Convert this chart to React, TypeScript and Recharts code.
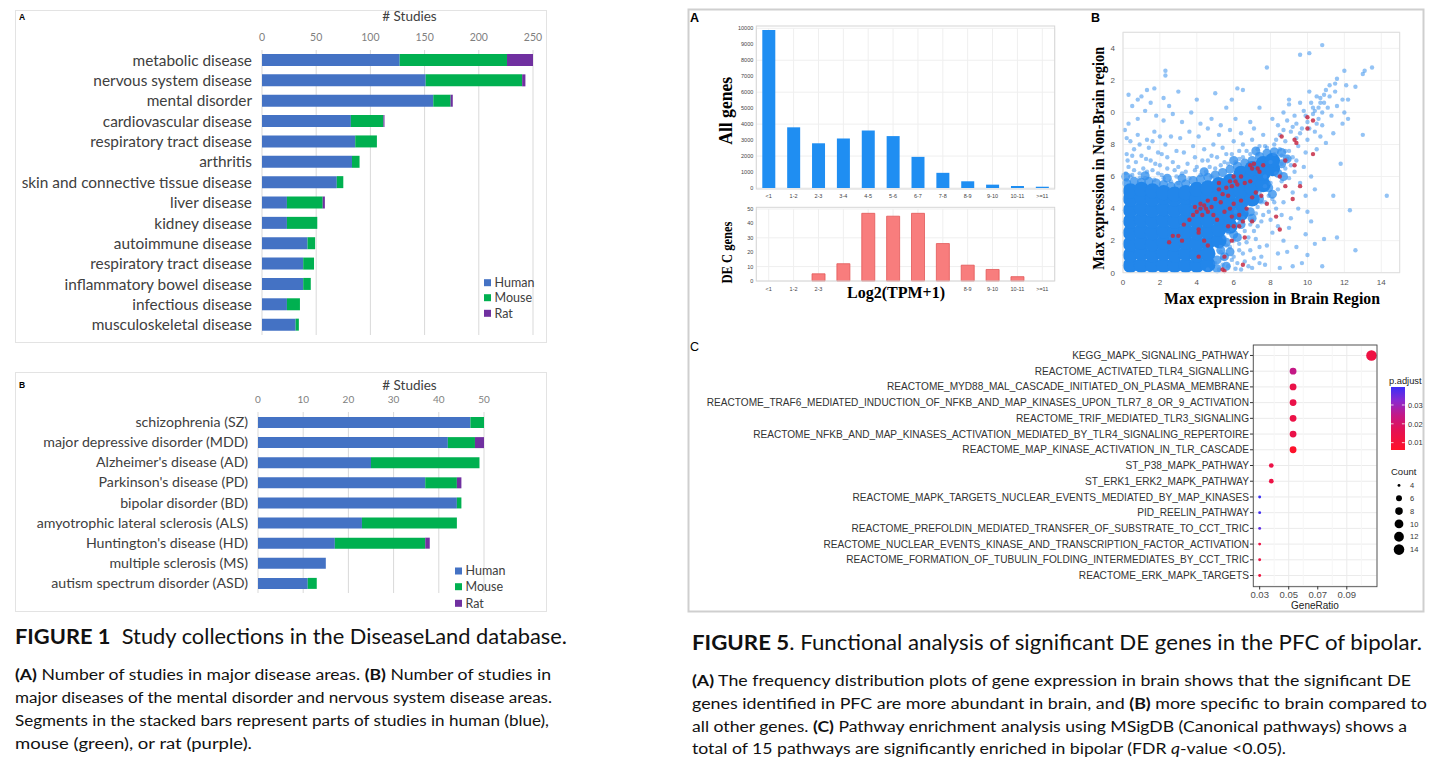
import React from "react";
import {
  BarChart,
  Bar,
  XAxis,
  YAxis,
  CartesianGrid,
  ScatterChart,
  Scatter,
  ZAxis,
  Cell,
  ReferenceLine,
} from "recharts";

// ---------- FIGURE 1A: major disease areas ----------
const areaNames = [
  "metabolic disease",
  "nervous system disease",
  "mental disorder",
  "cardiovascular disease",
  "respiratory tract disease",
  "arthritis",
  "skin and connective tissue disease",
  "liver disease",
  "kidney disease",
  "autoimmune disease",
  "respiratory tract disease",
  "inflammatory bowel disease",
  "infectious disease",
  "musculoskeletal disease",
];
const areaHuman = [127, 151, 158, 82, 86, 83, 69, 23, 23, 42, 38, 38, 23, 31];
const areaMouse = [99, 89, 16, 30, 20, 7, 6, 33, 28, 7, 10, 7, 12, 3];
const areaRat = [24, 3, 2, 1, 0, 0, 0, 2, 0, 0, 0, 0, 0, 0];
const areaTicks = [0, 50, 100, 150, 200, 250];

// ---------- FIGURE 1B: mental / nervous system diseases ----------
const mentalNames = [
  "schizophrenia (SZ)",
  "major depressive disorder (MDD)",
  "Alzheimer's disease (AD)",
  "Parkinson's disease (PD)",
  "bipolar disorder (BD)",
  "amyotrophic lateral sclerosis (ALS)",
  "Huntington's disease (HD)",
  "multiple sclerosis (MS)",
  "autism spectrum disorder (ASD)",
];
const mentalHuman = [47, 42, 25, 37, 44, 23, 17, 15, 11];
const mentalMouse = [3, 6, 24, 7, 1, 21, 20, 0, 2];
const mentalRat = [0, 2, 0, 1, 0, 0, 1, 0, 0];
const mentalTicks = [0, 10, 20, 30, 40, 50];

// ---------- FIGURE 5A: expression histograms ----------
const tpmBins = ["<1", "1-2", "2-3", "3-4", "4-5", "5-6", "6-7", "7-8", "8-9", "9-10", "10-11", ">=11"];
const allGenes = [9900, 3800, 2800, 3100, 3600, 3250, 1950, 950, 420, 210, 125, 80];
const decGenes = [0, 0, 5, 12, 47, 45, 47, 26, 11, 8, 3, 0];
const decLabelShown = [true, true, true, false, false, false, false, false, true, true, true, true];
const allTicks = [0, 1000, 2000, 3000, 4000, 5000, 6000, 7000, 8000, 9000, 10000];
const decTicks = [0, 10, 20, 30, 40, 50];

// ---------- FIGURE 5B: brain vs non-brain max expression ----------
// the solid blue mass
const denseCore: [number, number][] = [
  [0.4, 0.45], [0.4, 1.1], [0.4, 1.8], [0.4, 2.5], [0.4, 3.2], [0.4, 3.9], [0.4, 4.6], [0.4, 5.1],
  [1.0, 0.45], [1.0, 1.2], [1.0, 1.9], [1.0, 2.6], [1.0, 3.3], [1.0, 4.0], [1.0, 4.7], [1.0, 5.2],
  [1.6, 0.45], [1.6, 1.1], [1.6, 1.8], [1.6, 2.5], [1.6, 3.2], [1.6, 3.9], [1.6, 4.6], [1.6, 5.1],
  [2.2, 0.45], [2.2, 1.2], [2.2, 1.9], [2.2, 2.6], [2.2, 3.3], [2.2, 4.0], [2.2, 4.7], [2.2, 5.0],
  [2.8, 0.45], [2.8, 1.1], [2.8, 1.8], [2.8, 2.5], [2.8, 3.2], [2.8, 3.9], [2.8, 4.6], [2.8, 4.9],
  [3.4, 0.45], [3.4, 1.2], [3.4, 1.9], [3.4, 2.6], [3.4, 3.3], [3.4, 4.0], [3.4, 4.7], [3.4, 5.0],
  [4.0, 0.45], [4.0, 1.1], [4.0, 1.8], [4.0, 2.5], [4.0, 3.2], [4.0, 3.9], [4.0, 4.6], [4.0, 5.2],
  [4.6, 0.5], [4.6, 1.2], [4.6, 1.9], [4.6, 2.6], [4.6, 3.3], [4.6, 4.0], [4.6, 4.7], [4.6, 5.3],
  [5.2, 2.0], [5.2, 2.7], [5.2, 3.4], [5.2, 4.1], [5.2, 4.8], [5.2, 5.5],
  [5.8, 2.9], [5.8, 3.6], [5.8, 4.3], [5.8, 5.0], [5.8, 5.7],
  [6.4, 3.7], [6.4, 4.4], [6.4, 5.1], [6.4, 5.8], [6.4, 6.2],
  [7.0, 4.6], [7.0, 5.3], [7.0, 6.0], [7.0, 6.5],
  [7.6, 5.5], [7.6, 6.2], [7.6, 6.8],
  [8.1, 6.5], [8.1, 7.0],
];
// soft rim around the mass
const rimBlue: [number, number][] = [
  [0.2, 5.6], [0.6, 5.7], [1.0, 5.65], [1.4, 5.7], [1.8, 5.6], [2.2, 5.5], [2.6, 5.4], [3.0, 5.45],
  [3.4, 5.55], [3.8, 5.75], [4.2, 5.85], [4.6, 5.95], [5.0, 6.1], [5.4, 6.25], [5.8, 6.45], [6.2, 6.65],
  [6.6, 6.85], [7.0, 7.0], [7.4, 7.25], [7.8, 7.45], [8.2, 7.55], [8.6, 7.5], [8.6, 6.8], [8.4, 6.2],
  [7.9, 5.3], [7.4, 4.6], [6.9, 3.8], [6.4, 3.0], [6.0, 2.4], [5.6, 1.9], [5.3, 1.4], [5.1, 0.8],
  [5.1, 0.25], [5.5, 1.0], [0.15, 6.0], [1.2, 6.05], [2.4, 5.9], [3.2, 5.9], [4.4, 6.3], [6.0, 7.0],
  [7.2, 7.6], [8.9, 7.1], [8.7, 6.0], [8.1, 4.9], [7.0, 3.4], [6.2, 2.2], [5.8, 1.3], [5.6, 0.4],
];
const sparseBlue: [number, number][] = [
  // upper-left fringe
  [0.2, 5.8], [0.5, 6.1], [0.9, 5.9], [1.3, 6.3], [1.7, 5.8], [2.1, 6.1], [2.6, 5.7], [0.3, 6.6],
  [0.7, 6.9], [1.1, 6.5], [1.5, 7.0], [2.0, 6.7], [2.4, 7.2], [2.8, 6.4], [0.2, 7.4], [0.6, 7.7],
  [1.0, 7.3], [1.4, 7.8], [1.9, 7.5], [2.3, 8.0], [2.9, 7.6], [0.4, 8.2], [0.8, 8.6], [1.3, 8.3],
  [1.7, 8.8], [0.1, 8.9], [2.6, 8.5], [0.15, 6.2], [0.6, 6.4], [1.2, 5.9], [1.9, 6.2], [2.4, 6.5],
  [0.4, 6.0], [0.9, 6.2], [1.6, 6.4], [2.2, 5.9], [2.9, 6.0], [0.25, 7.0], [1.25, 7.1], [1.75, 6.8],
  [2.7, 6.9], [0.5, 7.3], [2.1, 7.4], [0.9, 8.0], [1.6, 8.2], [0.2, 8.4], [2.0, 8.5], [3.0, 6.6],
  // middle upper
  [3.2, 6.2], [3.5, 6.8], [3.9, 6.4], [4.3, 7.0], [4.7, 6.6], [5.1, 7.2], [5.5, 6.9], [5.9, 7.4],
  [6.3, 7.1], [6.7, 7.6], [3.3, 7.5], [3.8, 7.9], [4.4, 7.7], [4.9, 8.0], [5.4, 7.8], [6.0, 8.2],
  [6.5, 8.0], [7.0, 8.3], [7.4, 7.9], [3.1, 8.4], [3.6, 8.8], [4.1, 8.5], [4.6, 9.0], [5.2, 8.6],
  [5.8, 8.9], [6.4, 8.7], [7.1, 9.0], [7.6, 8.6], [3.0, 5.6], [3.6, 5.9], [4.2, 6.1], [4.8, 6.0],
  [3.4, 6.3], [4.0, 6.6], [4.5, 6.3], [5.0, 6.5], [5.3, 6.7], [5.7, 6.8], [6.1, 6.9], [6.5, 7.2],
  [6.9, 7.4], [7.3, 7.7], [7.7, 7.9], [4.8, 7.3], [5.6, 7.4], [6.3, 7.6], [3.9, 7.2], [4.6, 7.0],
  // sparse top
  [0.3, 9.3], [0.8, 9.6], [1.2, 10.1], [1.8, 9.8], [2.2, 9.5], [2.7, 9.9], [3.2, 9.4], [3.7, 10.0],
  [4.2, 9.3], [4.8, 9.6], [5.3, 9.2], [6.1, 9.6], [6.9, 9.4], [7.4, 10.3], [0.5, 10.4], [1.0, 11.0],
  [1.5, 10.6], [2.5, 10.4], [3.0, 11.3], [4.0, 10.8], [5.0, 11.2], [5.6, 10.3], [5.9, 10.8],
  [6.5, 11.4], [6.2, 11.5], [1.7, 11.5], [1.3, 11.4], [0.3, 11.1], [0.8, 10.8], [2.2, 10.9],
  // outliers
  [2.3, 12.6], [2.3, 12.3], [10.8, 14.2], [9.6, 13.6], [10.1, 13.7], [7.8, 12.8], [13.5, 12.8],
  [13.0, 12.4], [13.1, 12.6], [12.6, 11.6], [11.6, 12.1], [11.5, 11.8], [12.1, 11.7], [11.2, 11.7],
  [13.0, 8.6], [11.8, 6.8], [14.3, 4.8], [12.3, 3.9], [11.4, 4.8], [11.6, 2.2], [12.6, 1.4],
  [10.8, 0.4], [10.9, 2.1], [9.0, 10.5], [12.0, 12.6], [11.9, 10.8],
  // upper-right cluster
  [8.2, 8.0], [8.5, 8.6], [8.8, 8.2], [9.1, 8.8], [9.4, 8.4], [9.7, 9.0], [10.0, 9.4], [10.3, 9.9],
  [10.6, 10.3], [10.9, 10.6], [11.2, 11.0], [8.4, 9.2], [8.9, 9.5], [9.3, 9.8], [9.8, 10.1],
  [10.2, 10.6], [10.5, 11.0], [11.0, 11.4], [11.5, 11.3], [9.0, 7.6], [9.5, 7.9], [10.0, 8.3],
  [10.4, 8.8], [10.8, 9.2], [11.3, 9.8], [11.6, 10.4], [12.0, 10.0], [12.2, 10.8], [8.6, 7.3],
  [9.2, 7.2], [9.9, 7.5], [10.5, 7.7], [11.0, 8.1], [10.7, 8.5], [11.4, 8.7], [10.3, 10.3],
  [10.8, 10.0], [9.6, 10.6], [10.1, 11.3], [11.1, 10.3], [9.4, 9.3], [8.7, 10.0], [9.0, 10.8],
  [8.1, 9.6], [10.6, 9.6], [11.9, 9.3], [12.2, 9.6], [10.7, 10.9], [10.9, 11.1], [10.4, 10.1],
  [8.3, 8.3], [8.7, 8.9], [9.2, 9.1], [9.6, 8.7], [10.1, 9.0], [10.5, 9.3], [9.9, 9.8], [10.7, 10.6],
  // along the diagonal, right of the core
  [7.8, 7.8], [8.2, 7.4], [8.6, 6.8], [8.3, 6.2], [8.8, 6.5], [9.0, 5.9], [7.7, 6.0], [8.0, 5.6],
  [7.4, 5.0], [7.9, 4.8], [8.4, 5.2], [8.7, 4.4], [9.2, 5.0], [9.6, 5.6], [9.3, 6.3], [9.8, 6.6],
  [10.2, 6.0], [10.4, 5.2], [9.9, 4.8], [8.5, 7.7], [7.3, 7.4], [8.9, 7.1], [7.5, 4.4], [8.6, 5.7],
  [9.1, 6.7], [8.0, 6.9], [8.8, 7.6], [9.4, 7.0], [7.7, 5.4], [8.2, 4.4],
  // lower-right mottled area
  [4.6, 0.2], [5.0, 0.6], [5.3, 1.3], [5.7, 0.4], [6.0, 1.0], [6.3, 1.8], [6.6, 0.7], [6.9, 1.4],
  [7.2, 2.1], [7.5, 1.0], [7.8, 1.7], [8.1, 2.5], [8.4, 1.2], [8.7, 2.0], [9.0, 2.8], [9.4, 1.6],
  [9.7, 0.6], [9.9, 2.4], [10.2, 3.2], [5.5, 2.2], [5.9, 2.7], [6.2, 3.0], [6.6, 2.6], [7.0, 3.3],
  [7.3, 2.9], [7.6, 3.6], [8.0, 3.3], [8.3, 4.0], [8.6, 3.6], [9.1, 3.4], [9.5, 4.0], [10.0, 3.8],
  [6.4, 0.2], [7.0, 0.3], [7.7, 0.5], [8.5, 0.3], [9.2, 0.4], [5.2, 0.2], [5.8, 1.6], [6.8, 2.2],
  [7.4, 1.6], [8.9, 1.3], [10.4, 1.8], [10.0, 1.1], [6.1, 3.8], [6.7, 3.9], [7.3, 4.1], [7.7, 4.4],
  [8.1, 4.6], [5.4, 0.9], [6.2, 0.6], [5.6, 1.7], [6.5, 1.2], [7.1, 0.9], [5.3, 1.6], [5.9, 0.8],
  [6.3, 1.4], [6.7, 1.9], [7.1, 2.6], [6.5, 3.4], [6.0, 2.0], [5.7, 2.5], [6.9, 3.0], [7.5, 3.2],
  [7.9, 3.8], [8.4, 2.9], [7.2, 3.7], [6.8, 0.4], [7.4, 0.6], [6.1, 0.25], [5.4, 0.5],
];
const degPoints: [number, number][] = [
  [10.0, 9.7], [10.3, 9.5], [10.0, 9.0], [8.6, 8.5], [9.3, 8.3], [9.4, 8.1], [10.3, 7.4], [9.3, 6.7],
  [8.8, 7.0], [8.5, 6.0], [9.6, 5.4], [8.8, 5.4], [9.2, 4.6], [8.5, 2.7], [8.3, 3.5], [7.8, 4.3],
  [7.1, 6.8], [7.0, 6.5], [6.9, 6.7], [7.3, 6.5], [7.6, 6.7], [7.4, 6.3], [6.4, 6.0], [6.1, 5.7],
  [5.8, 5.7], [5.6, 5.3], [5.9, 5.4], [6.2, 5.5], [6.6, 5.6], [6.9, 5.7], [5.2, 5.2], [5.4, 4.9],
  [5.0, 4.6], [4.6, 4.5], [4.4, 4.2], [4.2, 4.0], [4.0, 3.8], [3.8, 3.6], [4.3, 3.6], [4.6, 3.8],
  [4.8, 4.1], [5.3, 4.4], [5.7, 4.8], [6.0, 4.3], [6.4, 4.5], [6.7, 4.0], [7.0, 4.7], [7.2, 5.0],
  [7.5, 4.8], [6.3, 3.6], [5.9, 3.5], [5.5, 3.8], [5.1, 3.3], [3.3, 3.0], [3.0, 2.3], [2.7, 2.3],
  [2.5, 1.9], [3.2, 2.0], [4.1, 2.7], [4.1, 2.5], [4.4, 2.0], [4.6, 1.7], [5.4, 0.2], [5.5, 0.1],
  [5.7, 2.9], [6.0, 2.9], [6.3, 2.9], [6.6, 2.2], [5.9, 2.0], [5.5, 1.0], [6.5, 0.5], [4.1, 1.0],
  [3.6, 3.3], [5.8, 4.0], [6.5, 3.2], [7.0, 3.2], [4.9, 3.6], [5.2, 5.6], [6.0, 6.0], [4.2, 4.3],
  [3.9, 4.1], [4.5, 4.0],
];
const exprTicks = [0, 2, 4, 6, 8, 10, 12, 14];

// ---------- FIGURE 5C: pathway enrichment ----------
const pathways = [
  "KEGG_MAPK_SIGNALING_PATHWAY",
  "REACTOME_ACTIVATED_TLR4_SIGNALLING",
  "REACTOME_MYD88_MAL_CASCADE_INITIATED_ON_PLASMA_MEMBRANE",
  "REACTOME_TRAF6_MEDIATED_INDUCTION_OF_NFKB_AND_MAP_KINASES_UPON_TLR7_8_OR_9_ACTIVATION",
  "REACTOME_TRIF_MEDIATED_TLR3_SIGNALING",
  "REACTOME_NFKB_AND_MAP_KINASES_ACTIVATION_MEDIATED_BY_TLR4_SIGNALING_REPERTOIRE",
  "REACTOME_MAP_KINASE_ACTIVATION_IN_TLR_CASCADE",
  "ST_P38_MAPK_PATHWAY",
  "ST_ERK1_ERK2_MAPK_PATHWAY",
  "REACTOME_MAPK_TARGETS_NUCLEAR_EVENTS_MEDIATED_BY_MAP_KINASES",
  "PID_REELIN_PATHWAY",
  "REACTOME_PREFOLDIN_MEDIATED_TRANSFER_OF_SUBSTRATE_TO_CCT_TRIC",
  "REACTOME_NUCLEAR_EVENTS_KINASE_AND_TRANSCRIPTION_FACTOR_ACTIVATION",
  "REACTOME_FORMATION_OF_TUBULIN_FOLDING_INTERMEDIATES_BY_CCT_TRIC",
  "REACTOME_ERK_MAPK_TARGETS",
];
const geneRatio = [0.107, 0.053, 0.053, 0.053, 0.053, 0.053, 0.053, 0.038, 0.038, 0.03, 0.03, 0.03, 0.03, 0.03, 0.03];
const pathwayCount = [14, 7, 7, 7, 7, 7, 7, 5, 5, 4, 4, 4, 4, 4, 4];
const pAdjust = [0.0125, 0.0245, 0.014, 0.014, 0.0135, 0.014, 0.0068, 0.0135, 0.013, 0.0397, 0.039, 0.0365, 0.013, 0.013, 0.0115];
const ratioTicks = [0.03, 0.05, 0.07, 0.09];
const ratioMinor = [0.04, 0.06, 0.08, 0.1];
const countLegend = [4, 6, 8, 10, 12, 14];
const pLegendTicks = [0.01, 0.02, 0.03];

// ---------- derived tables ----------
const fig1a = areaNames.map((name, i) => ({ id: i, name, human: areaHuman[i], mouse: areaMouse[i], rat: areaRat[i] }));
const fig1b = mentalNames.map((name, i) => ({ id: i, name, human: mentalHuman[i], mouse: mentalMouse[i], rat: mentalRat[i] }));
const fig5all = tpmBins.map((bin, i) => ({ bin, n: allGenes[i] }));
const fig5dec = tpmBins.map((bin, i) => ({ bin, idx: i, n: decGenes[i] }));
const toXY = (pts: [number, number][]) => pts.map(([x, y]) => ({ x, y }));
const fig5core = toXY(denseCore);
const fig5rim = toXY(rimBlue);
const fig5sparse = toXY(sparseBlue);
const fig5deg = toXY(degPoints);
const fig5c = pathways.map((name, i) => ({ name, ratio: geneRatio[i], count: pathwayCount[i], p: pAdjust[i] }));
const countRows = countLegend.map((c) => ({ x: 0.5, label: String(c), count: c }));

// ---------- styling ----------
const HUMAN = "#4472C4";
const MOUSE = "#00B050";
const RAT = "#7030A0";
const LATO = "Lato, 'Open Sans', sans-serif";
const ARIAL = "'Liberation Sans', Arial, sans-serif";
const TIMES = "'Liberation Serif', 'Times New Roman', serif";

const P_MIN = 0.0061;
const P_MAX = 0.0397;
const gradStops: [number, number[]][] = [
  [0, [255, 18, 40]],
  [0.33, [226, 18, 86]],
  [0.55, [196, 24, 134]],
  [0.78, [138, 42, 208]],
  [1, [58, 46, 246]],
];
function pColor(p: number) {
  const t = Math.max(0, Math.min(1, (p - P_MIN) / (P_MAX - P_MIN)));
  for (let i = 1; i < gradStops.length; i++) {
    const [t1, c1] = gradStops[i];
    const [t0, c0] = gradStops[i - 1];
    if (t <= t1) {
      const f = (t - t0) / (t1 - t0);
      const c = c0.map((v, k) => Math.round(v + (c1[k] - v) * f));
      return `rgb(${c[0]},${c[1]},${c[2]})`;
    }
  }
  return "rgb(58,46,246)";
}
const gradCss = `linear-gradient(to top, ${gradStops.map(([t, c]) => `rgb(${c.join(",")}) ${t * 100}%`).join(", ")})`;

const abs = (left: number, top: number): React.CSSProperties => ({ position: "absolute", left, top });

const dot = (r: number, fill: string, opacity: number) => (props: any) =>
  <circle cx={props.cx} cy={props.cy} r={r} fill={fill} fillOpacity={opacity} />;

function SpeciesLegend({ x, rows }: { x: number; rows: number[] }) {
  const items = [["Human", HUMAN], ["Mouse", MOUSE], ["Rat", RAT]];
  return (
    <g>
      {items.map(([label, color], i) => (
        <g key={label}>
          <rect x={x} y={rows[i] - 3.5} width={7} height={7} fill={color} />
          <text x={x + 10.5} y={rows[i] + 4.3} fontSize={12.5} fill="#404040" fontFamily={LATO}>{label}</text>
        </g>
      ))}
    </g>
  );
}

export default function App() {
  return (
    <div style={{ position: "absolute", left: 0, top: 0, width: 1440, height: 762, background: "#fff", overflow: "hidden" }}>
      {/* FIGURE 1A */}
      <div style={abs(15, 10)}>
        <BarChart width={532} height={333} data={fig1a} layout="vertical" margin={{ top: 22, right: 14, bottom: 8, left: 0 }}>
          <CartesianGrid horizontal={false} stroke="#d9d9d9" />
          <XAxis type="number" orientation="top" height={18} domain={[0, 250]} ticks={areaTicks}
            axisLine={false} tickLine={false} tickMargin={3}
            tick={{ fontSize: 10.5, fill: "#7f7f7f", fontFamily: LATO }} />
          <YAxis type="category" dataKey="id" width={247} axisLine={false} tickLine={false} tickMargin={4}
            tickFormatter={(i) => areaNames[i]} interval={0}
            tick={{ fontSize: 15.4, fill: "#404040", fontFamily: LATO }} />
          <Bar dataKey="human" stackId="s" fill={HUMAN} barSize={12} isAnimationActive={false} />
          <Bar dataKey="mouse" stackId="s" fill={MOUSE} barSize={12} isAnimationActive={false} />
          <Bar dataKey="rat" stackId="s" fill={RAT} barSize={12} isAnimationActive={false} />
        </BarChart>
      </div>

      {/* FIGURE 1B */}
      <div style={abs(15, 372)}>
        <BarChart width={532} height={240} data={fig1b} layout="vertical" margin={{ top: 22, right: 63, bottom: 19, left: 0 }}>
          <CartesianGrid horizontal={false} stroke="#d9d9d9" />
          <XAxis type="number" orientation="top" height={18} domain={[0, 50]} ticks={mentalTicks}
            axisLine={false} tickLine={false} tickMargin={3}
            tick={{ fontSize: 10, fill: "#7f7f7f", fontFamily: LATO }} />
          <YAxis type="category" dataKey="id" width={243} axisLine={false} tickLine={false} tickMargin={4}
            tickFormatter={(i) => mentalNames[i]} interval={0}
            tick={{ fontSize: 14.2, fill: "#404040", fontFamily: LATO }} />
          <Bar dataKey="human" stackId="s" fill={HUMAN} barSize={11} isAnimationActive={false} />
          <Bar dataKey="mouse" stackId="s" fill={MOUSE} barSize={11} isAnimationActive={false} />
          <Bar dataKey="rat" stackId="s" fill={RAT} barSize={11} isAnimationActive={false} />
        </BarChart>
      </div>

      {/* FIGURE 5A upper: all genes */}
      <div style={abs(717, 18)}>
        <BarChart width={348} height={190} data={fig5all} margin={{ top: 10.3, right: 10.3, bottom: 0, left: 0 }}>
          <CartesianGrid stroke="#efefef" />
          <XAxis dataKey="bin" height={20} axisLine={false} tickLine={false} tickSize={3} tickMargin={3} interval={0}
            tick={{ fontSize: 5.5, fill: "#444", fontFamily: ARIAL }} />
          <YAxis width={39.3} domain={[0, 10000]} ticks={allTicks} axisLine={false} tickLine={false} tickSize={2} tickMargin={1}
            tick={{ fontSize: 5.5, fill: "#444", fontFamily: ARIAL }} />
          <Bar dataKey="n" fill="#1f8ef2" barSize={13} isAnimationActive={false} />
        </BarChart>
      </div>

      {/* FIGURE 5A lower: DEC genes */}
      <div style={abs(717, 199)}>
        <BarChart width={348} height={101} data={fig5dec} margin={{ top: 10, right: 10.3, bottom: 0, left: 0 }}>
          <CartesianGrid stroke="#efefef" />
          <XAxis dataKey="idx" height={19} axisLine={false} tickLine={false} tickSize={3} tickMargin={3} interval={0}
            tickFormatter={(i) => (decLabelShown[i] ? tpmBins[i] : "")}
            tick={{ fontSize: 5.5, fill: "#444", fontFamily: ARIAL }} />
          <YAxis width={39.3} domain={[0, 50]} ticks={decTicks} axisLine={false} tickLine={false} tickSize={2} tickMargin={1}
            tick={{ fontSize: 5.5, fill: "#444", fontFamily: ARIAL }} />
          <Bar dataKey="n" fill="#f87d7d" stroke="#e25858" strokeWidth={0.8} barSize={13} isAnimationActive={false} />
        </BarChart>
      </div>

      {/* FIGURE 5B scatter */}
      <div style={abs(1103, 22)}>
        <ScatterChart width={307} height={269} margin={{ top: 10.3, right: 10.3, bottom: 2.3, left: 0 }}>
          <CartesianGrid stroke="#f1f1f1" />
          <XAxis type="number" dataKey="x" domain={[0, 15]} ticks={exprTicks} height={16}
            axisLine={false} tickLine={false} tickSize={4} tickMargin={3}
            tick={{ fontSize: 8, fill: "#555", fontFamily: ARIAL }} />
          <YAxis type="number" dataKey="y" domain={[0, 15]} ticks={exprTicks} width={20}
            axisLine={false} tickLine={false} tickSize={4} tickMargin={4}
            tickFormatter={(v) => String(v % 10)}
            tick={{ fontSize: 8, fill: "#555", fontFamily: ARIAL }} />
          <Scatter data={fig5rim} shape={dot(4.5, "#2a8bec", 0.75)} isAnimationActive={false} />
          <Scatter data={fig5core} shape={dot(7.6, "#2286ea", 1)} isAnimationActive={false} />
          <Scatter data={fig5sparse} shape={dot(2.2, "#3a92ec", 0.55)} isAnimationActive={false} />
          <Scatter data={fig5deg} shape={dot(2.2, "#c62a44", 0.85)} isAnimationActive={false} />
        </ScatterChart>
      </div>

      {/* FIGURE 5C dot plot */}
      <div style={abs(695, 335)}>
        <ScatterChart width={684} height={273} margin={{ top: 10, right: 2, bottom: 1, left: 0 }}>
          <CartesianGrid stroke="#ebebeb" />
          {ratioMinor.map((v) => (
            <ReferenceLine key={v} x={v} stroke="#f6f6f6" />
          ))}
          <XAxis type="number" dataKey="ratio" domain={[0.0254, 0.1108]} ticks={ratioTicks} height={21}
            allowDataOverflow axisLine={false} tickLine={{ stroke: "#333" }} tickSize={3.5} tickMargin={2}
            tickFormatter={(v) => v.toFixed(2)}
            tick={{ fontSize: 9.5, fill: "#4d4d4d", fontFamily: ARIAL }} />
          <YAxis type="category" dataKey="name" width={558} reversed allowDuplicatedCategory={false}
            padding={{ top: 2.6, bottom: 2.6 }} interval={0}
            axisLine={false} tickLine={{ stroke: "#333" }} tickSize={3} tickMargin={1}
            tick={{ fontSize: 10.1, fill: "#333", fontFamily: ARIAL }} />
          <ZAxis type="number" dataKey="count" domain={[4, 14]} range={[6.6, 88]} scale="sqrt" />
          <Scatter data={fig5c} isAnimationActive={false}>
            {fig5c.map((d, i) => (
              <Cell key={i} fill={pColor(d.p)} />
            ))}
          </Scatter>
        </ScatterChart>
      </div>

      {/* FIGURE 5C count legend */}
      <div style={abs(1390, 478.6)}>
        <ScatterChart width={34} height={77} margin={{ top: 0, right: 0, bottom: 0, left: 0 }}>
          <XAxis type="number" dataKey="x" domain={[0, 1]} hide />
          <YAxis type="category" dataKey="label" orientation="right" width={16} reversed interval={0}
            axisLine={false} tickLine={false} tickSize={0} tickMargin={2}
            tick={{ fontSize: 7.5, fill: "#333", fontFamily: ARIAL }} />
          <ZAxis type="number" dataKey="count" domain={[4, 14]} range={[6.6, 88]} scale="sqrt" />
          <Scatter data={countRows} fill="#000" isAnimationActive={false} />
        </ScatterChart>
      </div>

      {/* p.adjust colour bar */}
      <div style={{ ...abs(1390.7, 386.7), width: 14, height: 63.3, background: gradCss }} />

      {/* text, frames and captions */}
      <svg width={1440} height={762} style={{ position: "absolute", left: 0, top: 0, pointerEvents: "none" }}>
        {/* Figure 1 frames */}
        <rect x={15.5} y={10.5} width={531} height={332} fill="none" stroke="#e3e3e3" />
        <rect x={15.5} y={372.5} width={531} height={239} fill="none" stroke="#e3e3e3" />
        <text x={19} y={20} fontSize={8.5} fontWeight="bold" fontFamily={ARIAL}>A</text>
        <text x={19} y={388} fontSize={8.5} fontWeight="bold" fontFamily={ARIAL}>B</text>
        <text x={409.5} y={21.3} fontSize={13.5} textAnchor="middle" fill="#404040" fontFamily={LATO}># Studies</text>
        <text x={409.5} y={389.6} fontSize={13.5} textAnchor="middle" fill="#404040" fontFamily={LATO}># Studies</text>
        <SpeciesLegend x={484} rows={[282.7, 297.7, 313.3]} />
        <SpeciesLegend x={455} rows={[571, 586.7, 603.3]} />

        {/* Figure 5 frame */}
        <rect x={688.5} y={9.5} width={735} height={602} fill="none" stroke="#cfcfcf" strokeWidth={2} />
        <text x={690} y={21.5} fontSize={12.5} fontWeight="bold" fontFamily={ARIAL}>A</text>
        <text x={1091} y={22} fontSize={12.5} fontWeight="bold" fontFamily={ARIAL}>B</text>
        <text x={690} y={351} fontSize={12.5} fontFamily={ARIAL}>C</text>

        {/* 5A frames and titles */}
        <rect x={756.3} y={26} width={298.4} height={163} fill="none" stroke="#d6d6d6" />
        <rect x={756.3} y={207.3} width={298.4} height={73.7} fill="none" stroke="#d6d6d6" />
        <text x={0} y={0} transform="translate(732,110.8) rotate(-90)" fontSize={18} fontWeight="bold" textAnchor="middle"
          fontFamily={TIMES} textLength={68} lengthAdjust="spacingAndGlyphs">All genes</text>
        <text x={0} y={0} transform="translate(731.5,252.5) rotate(-90)" fontSize={14} fontWeight="bold" textAnchor="middle"
          fontFamily={TIMES} textLength={62} lengthAdjust="spacingAndGlyphs">DE C genes</text>
        <text x={896} y={297.5} fontSize={16} fontWeight="bold" textAnchor="middle" fontFamily={TIMES}
          textLength={98} lengthAdjust="spacingAndGlyphs">Log2(TPM+1)</text>

        {/* 5B frame and titles */}
        <rect x={1123} y={32.3} width={276.7} height={240.4} fill="none" stroke="#dedede" />
        <text x={0} y={0} transform="translate(1103.5,158.3) rotate(-90)" fontSize={16} fontWeight="bold" textAnchor="middle"
          fontFamily={TIMES} textLength={223} lengthAdjust="spacingAndGlyphs">Max expression in Non-Brain region</text>
        <text x={1272} y={303.5} fontSize={16} fontWeight="bold" textAnchor="middle" fontFamily={TIMES}
          textLength={216} lengthAdjust="spacingAndGlyphs">Max expression in Brain Region</text>

        {/* 5C frame, axis title and legends */}
        <rect x={1253.3} y={345} width={123.7} height={241.7} fill="none" stroke="#4d4d4d" strokeWidth={0.9} />
        <text x={1315} y={608.5} fontSize={10} textAnchor="middle" fill="#222" fontFamily={ARIAL}>GeneRatio</text>
        <text x={1389} y={383.5} fontSize={9.3} fill="#222" fontFamily={ARIAL}>p.adjust</text>
        {pLegendTicks.map((v) => {
          const yy = 386.7 + (P_MAX - v) / (P_MAX - P_MIN) * 63.3;
          return (
            <g key={v}>
              <line x1={1390.7} x2={1393.5} y1={yy} y2={yy} stroke="#fff" strokeWidth={0.8} />
              <line x1={1401.9} x2={1404.7} y1={yy} y2={yy} stroke="#fff" strokeWidth={0.8} />
              <text x={1408} y={yy + 2.7} fontSize={7.5} fill="#333" fontFamily={ARIAL}>{v.toFixed(2)}</text>
            </g>
          );
        })}
        <text x={1391} y={475} fontSize={9.5} fill="#222" fontFamily={ARIAL}>Count</text>

        {/* captions */}
        <g fontFamily={LATO} fill="#111">
          <text x={15} y={644} fontSize={21} textLength={552} lengthAdjust="spacingAndGlyphs">
            <tspan fontWeight="bold">FIGURE 1</tspan>
            <tspan>{"\u00a0 Study collections in the DiseaseLand database."}</tspan>
          </text>
          <text x={15} y={679.5} fontSize={15.5} textLength={536} lengthAdjust="spacingAndGlyphs">
            <tspan fontWeight="bold">(A)</tspan>
            <tspan> Number of studies in major disease areas. </tspan>
            <tspan fontWeight="bold">(B)</tspan>
            <tspan> Number of studies in</tspan>
          </text>
          <text x={15} y={702.5} fontSize={15.5} textLength={537} lengthAdjust="spacingAndGlyphs">
            major diseases of the mental disorder and nervous system disease areas.
          </text>
          <text x={15} y={725.5} fontSize={15.5} textLength={534} lengthAdjust="spacingAndGlyphs">
            Segments in the stacked bars represent parts of studies in human (blue),
          </text>
          <text x={15} y={748.5} fontSize={15.5} textLength={237} lengthAdjust="spacingAndGlyphs">
            mouse (green), or rat (purple).
          </text>

          <text x={692} y={649.5} fontSize={21} textLength={730} lengthAdjust="spacingAndGlyphs">
            <tspan fontWeight="bold">FIGURE 5</tspan>
            <tspan>. Functional analysis of significant DE genes in the PFC of bipolar.</tspan>
          </text>
          <text x={692} y={686} fontSize={15.5} textLength={719} lengthAdjust="spacingAndGlyphs">
            <tspan fontWeight="bold">(A)</tspan>
            <tspan> The frequency distribution plots of gene expression in brain shows that the significant DE</tspan>
          </text>
          <text x={692} y={708.5} fontSize={15.5} textLength={735} lengthAdjust="spacingAndGlyphs">
            <tspan>genes identified in PFC are more abundant in brain, and </tspan>
            <tspan fontWeight="bold">(B)</tspan>
            <tspan> more specific to brain compared to</tspan>
          </text>
          <text x={692} y={731.5} fontSize={15.5} textLength={715} lengthAdjust="spacingAndGlyphs">
            <tspan>all other genes. </tspan>
            <tspan fontWeight="bold">(C)</tspan>
            <tspan> Pathway enrichment analysis using MSigDB (Canonical pathways) shows a</tspan>
          </text>
          <text x={692} y={753.5} fontSize={15.5} textLength={594} lengthAdjust="spacingAndGlyphs">
            <tspan>total of 15 pathways are significantly enriched in bipolar (FDR </tspan>
            <tspan fontStyle="italic">q</tspan>
            <tspan>-value &lt;0.05).</tspan>
          </text>
        </g>
      </svg>
    </div>
  );
}
